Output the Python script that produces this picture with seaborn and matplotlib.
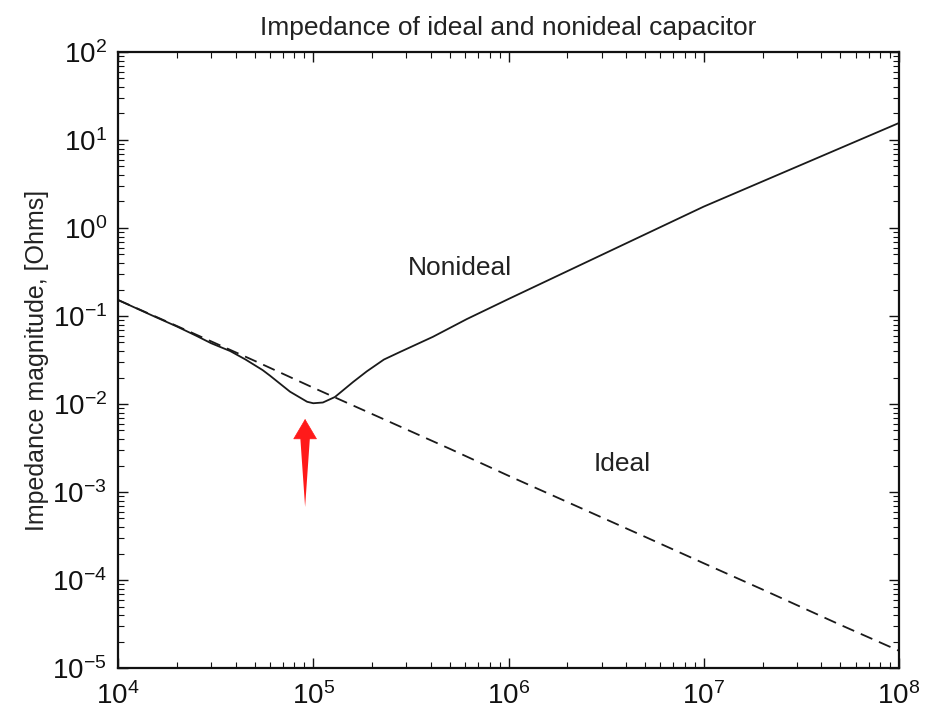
import numpy as np
import pandas as pd
import matplotlib
matplotlib.use("Agg")
import matplotlib.pyplot as plt
import seaborn as sns
from matplotlib.ticker import LogLocator, NullFormatter

# ---- data ----
ideal_freq = [1e4, 2e4, 5e4, 1e5, 2e5, 5e5, 1e6, 2e6, 5e6, 1e7, 2e7, 5e7, 1e8]
ideal_z = [0.152, 0.077, 0.031, 0.0153, 0.0077, 0.0031, 0.00153, 0.00077,
           0.00031, 0.000155, 7.8e-5, 3.1e-5, 1.57e-5]

nonideal_freq = [1e4, 1.5e4, 2e4, 2.5e4, 3e4, 3.75e4, 4.5e4, 5.5e4, 6e4, 7.6e4,
                 9.3e4, 1.0e5, 1.12e5, 1.29e5, 1.6e5, 1.88e5, 2.3e5, 2.78e5,
                 4.1e5, 6.1e5, 1e6, 1e7, 1e8]
nonideal_z = [0.152, 0.101, 0.076, 0.060, 0.049, 0.040, 0.032, 0.0243, 0.021,
              0.0138, 0.0106, 0.0102, 0.0104, 0.0120, 0.0178, 0.0235, 0.032,
              0.039, 0.058, 0.092, 0.156, 1.75, 15.6]

title = "Impedance of ideal and nonideal capacitor"
ylabel = "Impedance magnitude, [Ohms]"

df_ideal = pd.DataFrame({"f": ideal_freq, "z": ideal_z})
df_non = pd.DataFrame({"f": nonideal_freq, "z": nonideal_z})

sns.set_theme(style="ticks")
plt.rcParams["font.family"] = ["Liberation Sans", "DejaVu Sans"]
plt.rcParams["mathtext.fontset"] = "custom"
plt.rcParams["mathtext.rm"] = "Liberation Sans"
plt.rcParams["mathtext.it"] = "Liberation Sans:italic"
plt.rcParams["mathtext.bf"] = "Liberation Sans:bold"

fig = plt.figure(figsize=(9.37, 7.14), dpi=100)
ax = fig.add_axes([0.126, 0.0644, 0.8334, 0.8628])

sns.lineplot(data=df_non, x="f", y="z", ax=ax, color="#1a1a1a", linewidth=1.3)
sns.lineplot(data=df_ideal, x="f", y="z", ax=ax, color="#1a1a1a", linewidth=1.3,
             linestyle=(0, (7, 4)))

ax.set_xscale("log")
ax.set_yscale("log")
ax.set_xlim(1e4, 1e8)
ax.set_ylim(1e-5, 1e2)

ax.xaxis.set_major_locator(LogLocator(base=10, numticks=10))
ax.yaxis.set_major_locator(LogLocator(base=10, numticks=10))
ax.xaxis.set_minor_locator(LogLocator(base=10, subs=np.arange(2, 10), numticks=20))
ax.yaxis.set_minor_locator(LogLocator(base=10, subs=np.arange(2, 10), numticks=20))
ax.xaxis.set_minor_formatter(NullFormatter())
ax.yaxis.set_minor_formatter(NullFormatter())

ax.tick_params(which="both", direction="in", top=True, right=True, colors="#111111")
ax.tick_params(which="major", length=7, width=1.0, labelsize=20)
ax.tick_params(axis="x", which="major", pad=10)
ax.tick_params(axis="y", which="major", pad=8)
ax.tick_params(which="minor", length=4, width=0.8)
for s in ax.spines.values():
    s.set_linewidth(1.6)
    s.set_color("#111111")

ax.set_xlabel("")
ax.set_ylabel(ylabel, fontsize=18, color="#222222", labelpad=2)
ax.set_title(title, fontsize=19, color="#222222", pad=12)

ax.text(5.65e5, 0.35, "Nonideal", fontsize=19, color="#222222", ha="center", va="center")
ax.text(3.81e6, 2.08e-3, "Ideal", fontsize=19, color="#222222", ha="center", va="center")

# red arrow pointing to the minimum (tip, head base, tail point)
arrow_f = 9.08e4
arrow_tip, arrow_base, arrow_tail = 6.76e-3, 4.45e-3, 6.76e-4
ax.annotate("", xy=(arrow_f, arrow_tail), xytext=(arrow_f, arrow_base),
            arrowprops=dict(arrowstyle="wedge,tail_width=0.6,shrink_factor=0.5",
                            color="#ff1a1a", lw=0, shrinkA=0, shrinkB=0))
ax.annotate("", xy=(arrow_f, arrow_tip), xytext=(arrow_f, arrow_base * 0.97),
            arrowprops=dict(arrowstyle="-|>,head_length=1.15,head_width=0.68",
                            color="#ff1a1a", lw=0.5, shrinkA=0, shrinkB=0))

fig.savefig("out.png", dpi=100)
